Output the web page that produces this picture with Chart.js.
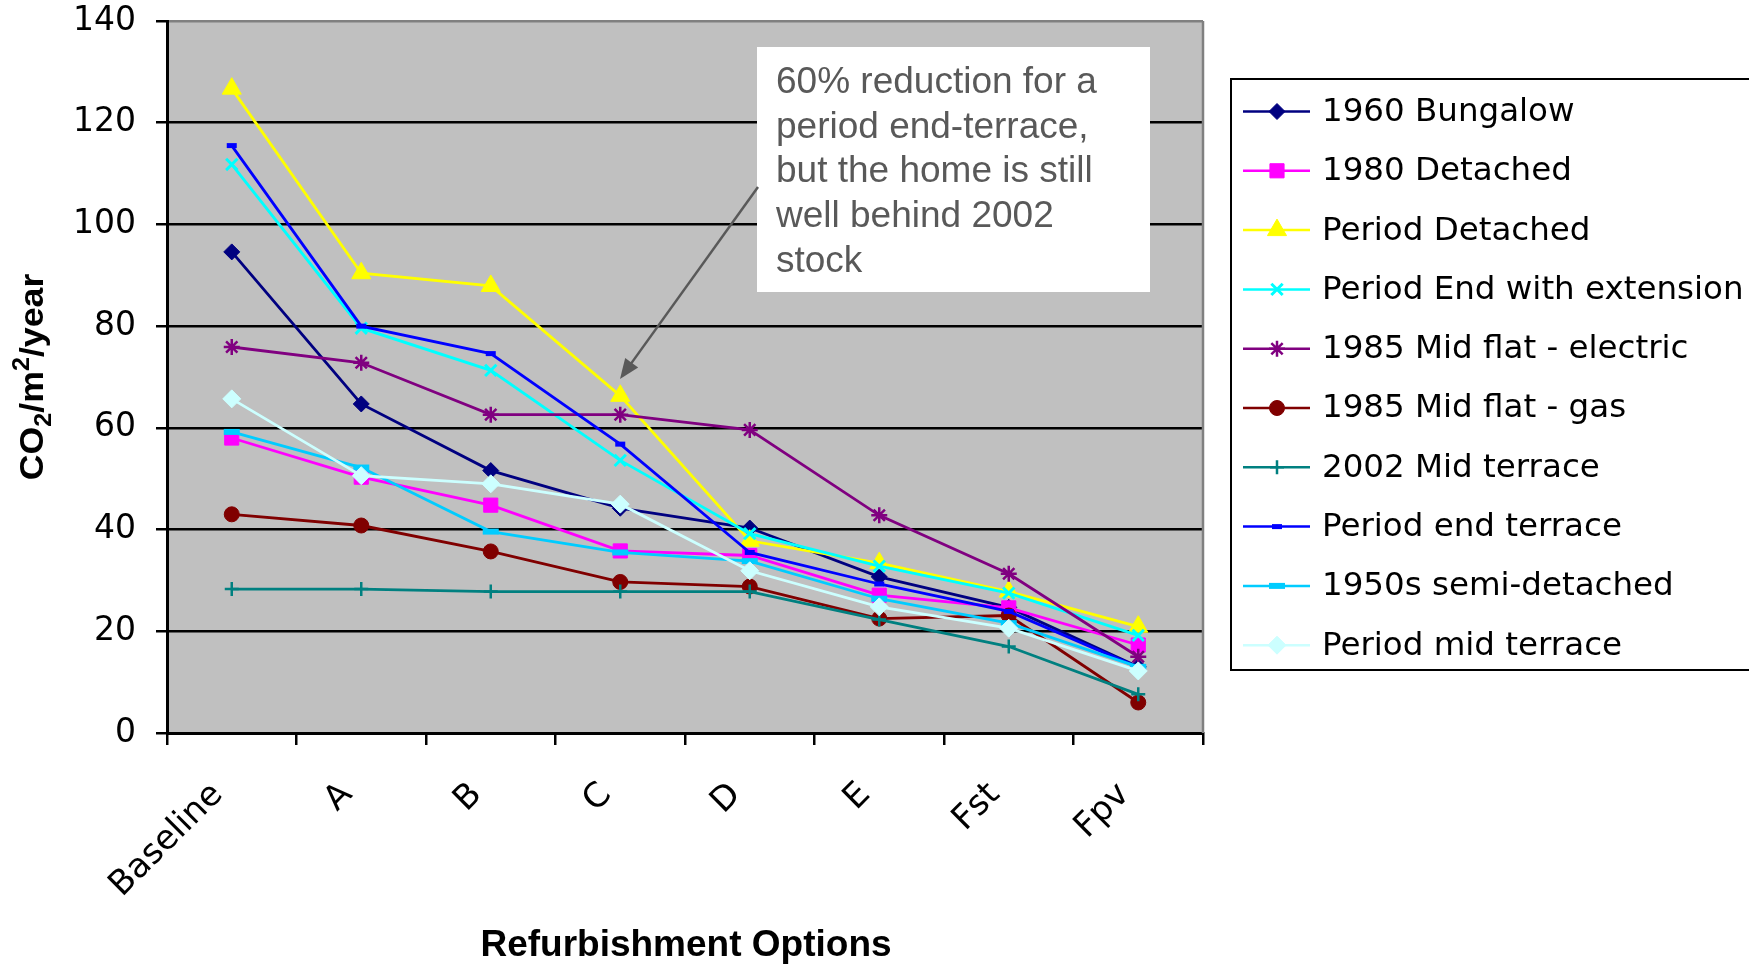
<!DOCTYPE html>
<html lang="en">
<head>
<meta charset="UTF-8">
<title>CO2 per m2 per year by refurbishment option</title>
<script src="https://cdn.jsdelivr.net/npm/chart.js"></script>
<style>
  html, body { margin: 0; padding: 0; background: #fff; }
  #wrap { width: 1749px; height: 966px; }
</style>
</head>
<body>
<div id="wrap"><canvas id="co2Chart" width="1749" height="966"></canvas></div>
<script>
// categories
const options = ['Baseline', 'A', 'B', 'C', 'D', 'E', 'Fst', 'Fpv'];
const yTicks = [0, 20, 40, 60, 80, 100, 120, 140];

// series values (kg CO2 / m2 / year)
const bungalow1960     = [94.6, 64.7, 51.6, 44.2, 40.3, 30.7, 24.7, 13.0];
const detached1980     = [58.0, 50.3, 44.8, 35.8, 34.9, 27.1, 24.6, 17.3];
const periodDetached   = [126.7, 90.4, 87.9, 66.3, 37.8, 33.4, 27.8, 20.9];
const periodEndExt     = [111.8, 79.6, 71.3, 53.6, 39.2, 32.8, 27.5, 19.2];
const midFlatElectric  = [75.9, 72.8, 62.6, 62.6, 59.6, 42.8, 31.3, 15.0];
const midFlatGas       = [43.0, 40.8, 35.7, 29.7, 28.8, 22.5, 23.1, 6.0];
const midTerrace2002   = [28.3, 28.3, 27.8, 27.8, 27.8, 22.3, 17.0, 7.6];
const periodEndTerrace = [115.5, 80.0, 74.6, 56.8, 35.5, 29.3, 23.9, 12.9];
const semi1950s        = [59.2, 52.2, 39.6, 35.5, 33.8, 26.4, 21.6, 13.0];
const periodMidTerrace = [65.7, 50.6, 49.0, 45.0, 31.9, 24.8, 20.6, 12.2];

const noteLines = ['60% reduction for a', 'period end-terrace,', 'but the home is still', 'well behind 2002', 'stock'];

// series styling
const series = [
  { label: '1960 Bungalow', data: bungalow1960, color: '#000080', style: 'rectRot', r: 8, bw: 1 },
  { label: '1980 Detached', data: detached1980, color: '#FF00FF', style: 'rect', r: 10, bw: 1 },
  { label: 'Period Detached', data: periodDetached, color: '#FFFF00', style: 'triangle', r: 11, bw: 1 },
  { label: 'Period End with extension', data: periodEndExt, color: '#00FFFF', style: 'crossRot', r: 8, bw: 3 },
  { label: '1985 Mid flat - electric', data: midFlatElectric, color: '#800080', style: 'star', r: 8, bw: 2.5 },
  { label: '1985 Mid flat - gas', data: midFlatGas, color: '#800000', style: 'circle', r: 7.5, bw: 1 },
  { label: '2002 Mid terrace', data: midTerrace2002, color: '#008080', style: 'cross', r: 7, bw: 2.5 },
  { label: 'Period end terrace', data: periodEndTerrace, color: '#0000FF', style: 'line', r: 5, bw: 5 },
  { label: '1950s semi-detached', data: semi1950s, color: '#00CCFF', style: 'line', r: 8, bw: 6 },
  { label: 'Period mid terrace', data: periodMidTerrace, color: '#CCFFFF', style: 'rectRot', r: 9, bw: 1 }
];

const plotBg = {
  id: 'plotBg',
  beforeDraw(chart) {
    const { ctx, chartArea: a } = chart;
    ctx.save();
    ctx.fillStyle = '#C0C0C0';
    ctx.fillRect(a.left, a.top, a.right - a.left, a.bottom - a.top);
    ctx.restore();
  },
  beforeDatasetsDraw(chart) {
    const { ctx, chartArea: a } = chart;
    ctx.save();
    ctx.strokeStyle = '#808080';
    ctx.lineWidth = 2.5;
    ctx.beginPath();
    ctx.moveTo(a.right, a.top);
    ctx.lineTo(a.right, a.bottom);
    ctx.stroke();
    ctx.restore();
  }
};

function drawYTitle(ctx) {
  const parts = [['CO', 0], ['2', 1], ['/m', 0], ['2', -1], ['/year', 0]];
  ctx.save();
  ctx.translate(31, 377);
  ctx.rotate(-Math.PI / 2);
  ctx.scale(1.05, 1);
  ctx.fillStyle = '#000';
  ctx.textBaseline = 'alphabetic';
  ctx.textAlign = 'left';
  const big = 'bold 34px "Liberation Sans", Arial, sans-serif';
  const small = 'bold 24px "Liberation Sans", Arial, sans-serif';
  let total = 0;
  parts.forEach(p => { ctx.font = p[1] ? small : big; total += ctx.measureText(p[0]).width; });
  let x = -total / 2;
  parts.forEach(p => {
    ctx.font = p[1] ? small : big;
    const dy = p[1] === 1 ? 8 : p[1] === -1 ? -14 : 0;
    ctx.fillText(p[0], x, 12 + dy);
    x += ctx.measureText(p[0]).width;
  });
  ctx.restore();
}

const overlay = {
  id: 'overlay',
  afterDraw(chart) {
    const ctx = chart.ctx;
    ctx.save();

    // axis titles
    drawYTitle(ctx);
    ctx.fillStyle = '#000';
    ctx.font = 'bold 37px "Liberation Sans", Arial, sans-serif';
    ctx.textAlign = 'center';
    ctx.textBaseline = 'middle';
    ctx.fillText('Refurbishment Options', 686, 946);

    // callout box
    ctx.fillStyle = '#FFFFFF';
    ctx.fillRect(757, 47, 393, 245);
    ctx.fillStyle = '#595959';
    ctx.font = '37px "Liberation Sans", Arial, sans-serif';
    ctx.textAlign = 'left';
    noteLines.forEach((t, i) => ctx.fillText(t, 776, 83 + i * 44.6));

    // arrow to Period Detached at C
    const x0 = 758, y0 = 187, x1 = 620, y1 = 379;
    const ang = Math.atan2(y1 - y0, x1 - x0);
    ctx.strokeStyle = '#595959';
    ctx.lineWidth = 2.5;
    ctx.beginPath();
    ctx.moveTo(x0, y0);
    ctx.lineTo(x1 - 14 * Math.cos(ang), y1 - 14 * Math.sin(ang));
    ctx.stroke();
    ctx.fillStyle = '#595959';
    ctx.beginPath();
    ctx.moveTo(x1, y1);
    ctx.lineTo(x1 - 20 * Math.cos(ang) + 8 * Math.sin(ang), y1 - 20 * Math.sin(ang) - 8 * Math.cos(ang));
    ctx.lineTo(x1 - 20 * Math.cos(ang) - 8 * Math.sin(ang), y1 - 20 * Math.sin(ang) + 8 * Math.cos(ang));
    ctx.closePath();
    ctx.fill();

    // legend
    ctx.fillStyle = '#FFFFFF';
    ctx.fillRect(1230, 78, 600, 592);
    ctx.strokeStyle = '#000';
    ctx.lineWidth = 2;
    ctx.strokeRect(1231, 79, 600, 591);
    ctx.font = '32.5px "DejaVu Sans", sans-serif';
    ctx.textBaseline = 'middle';
    series.forEach((s, i) => {
      const y = 111.5 + i * 59.3;
      ctx.strokeStyle = s.color;
      ctx.fillStyle = s.color;
      ctx.lineWidth = 2.5;
      ctx.beginPath();
      ctx.moveTo(1243, y);
      ctx.lineTo(1310, y);
      ctx.stroke();
      ctx.lineWidth = s.bw;
      Chart.helpers.drawPoint(ctx, { pointStyle: s.style, radius: s.r, borderWidth: s.bw, rotation: 0 }, 1277, y);
      ctx.fillStyle = '#000';
      ctx.fillText(s.label, 1322, y + 1);
    });
    ctx.restore();
  }
};

const datasets = series.map((s, i) => ({
  label: s.label,
  data: s.data,
  borderColor: s.color,
  backgroundColor: s.color,
  borderWidth: 2.8,
  pointStyle: s.style,
  pointRadius: s.r,
  pointBorderWidth: s.bw,
  pointBorderColor: s.color,
  pointBackgroundColor: s.color,
  tension: 0,
  order: series.length - i
}));

const ctx = document.getElementById('co2Chart').getContext('2d');
new Chart(ctx, {
  type: 'line',
  data: { labels: options, datasets: datasets },
  plugins: [plotBg, overlay],
  options: {
    responsive: false,
    animation: false,
    devicePixelRatio: 1,
    layout: { padding: { top: 21, right: 546, bottom: 0, left: 0 } },
    plugins: { legend: { display: false }, tooltip: { enabled: false } },
    scales: {
      x: {
        offset: true,
        grid: { offset: true, drawOnChartArea: false, drawTicks: true, tickLength: 12, color: '#000', lineWidth: 2.5 },
        border: { color: '#000', width: 3 },
        ticks: {
          color: '#000', font: { family: 'DejaVu Sans', size: 34 },
          minRotation: 45, maxRotation: 45, autoSkip: false, padding: 30, labelOffset: -14
        },
        afterFit(scale) {
          scale.height = 233;
          scale.paddingLeft = 0; scale.paddingRight = 0;
        }
      },
      y: {
        min: 0, max: 140,
        afterBuildTicks(scale) { scale.ticks = yTicks.map(v => ({ value: v })); },
        grid: {
          color: c => (c.tick && c.tick.value === 140 ? '#808080' : '#000'),
          tickColor: '#000', lineWidth: 2.5, tickLength: 11
        },
        border: { color: '#000', width: 3 },
        ticks: { color: '#000', font: { family: 'DejaVu Sans', size: 33 }, padding: 20 },
        afterFit(scale) {
          scale.width = 167;
          scale.paddingTop = 0; scale.paddingBottom = 0;
        }
      }
    }
  }
});
</script>
</body>
</html>
